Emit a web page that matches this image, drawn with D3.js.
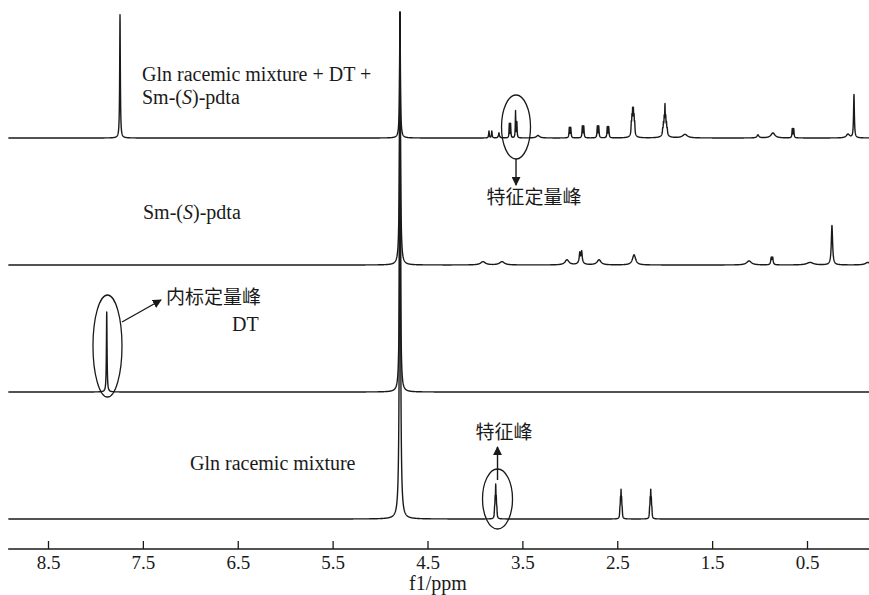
<!DOCTYPE html>
<html>
<head>
<meta charset="utf-8">
<script src="https://cdn.jsdelivr.net/npm/d3@7"></script>
<style>
  body { margin: 0; background: #fff; }
  svg { display: block; }
  .lbl { font-family: "Liberation Serif", "Times New Roman", serif; font-size: 20px; fill: #1a1a1a; }
  .cjk { font-family: "Noto Sans CJK SC", sans-serif; font-size: 19px; fill: #1a1a1a; }
  .axis text { font-family: "Liberation Serif", "Times New Roman", serif; font-size: 19px; fill: #1a1a1a; }
</style>
</head>
<body>
<div id="chart"></div>
<script>
// spectra, top to bottom
var spectra = ["mix", "sm", "dt", "gln"];
var tickValues = [8.5, 7.5, 6.5, 5.5, 4.5, 3.5, 2.5, 1.5, 0.5];
var ppmRange = [8.92, -0.16];

// peaks: [ppm, height (fraction of panel spacing), half width (ppm)]
var mixPeaks = [
  [7.741, 0.97, 0.004],
  [4.79, 0.99, 0.005],
  [3.852, 0.055, 0.004], [3.822, 0.055, 0.004],
  [3.747, 0.04, 0.006],
  [3.638, 0.11, 0.003], [3.624, 0.11, 0.003],
  [3.572, 0.21, 0.003], [3.558, 0.12, 0.003],
  [3.335, 0.02, 0.02],
  [3.005, 0.08, 0.004], [2.99, 0.08, 0.004],
  [2.868, 0.09, 0.004], [2.853, 0.09, 0.004],
  [2.71, 0.09, 0.004], [2.695, 0.09, 0.004],
  [2.605, 0.085, 0.004], [2.59, 0.085, 0.004],
  [2.352, 0.08, 0.003], [2.345, 0.11, 0.003], [2.338, 0.15, 0.003], [2.33, 0.15, 0.003],
  [2.323, 0.11, 0.003], [2.316, 0.08, 0.003], [2.334, 0.05, 0.02],
  [1.997, 0.19, 0.003], [2.005, 0.1, 0.003], [1.989, 0.1, 0.003], [2.013, 0.07, 0.003],
  [1.981, 0.07, 0.003], [2.021, 0.04, 0.003], [1.973, 0.04, 0.003], [1.997, 0.05, 0.025],
  [1.786, 0.028, 0.03],
  [1.017, 0.024, 0.012],
  [0.859, 0.04, 0.025],
  [0.655, 0.07, 0.004], [0.64, 0.07, 0.004],
  [0.068, 0.03, 0.02],
  [0.005, 0.34, 0.005]
];
var smPeaks = [
  [4.79, 1.99, 0.006],
  [3.915, 0.026, 0.03],
  [3.715, 0.026, 0.03],
  [3.03, 0.04, 0.025],
  [2.895, 0.07, 0.006], [2.875, 0.08, 0.006], [2.885, 0.03, 0.025],
  [2.692, 0.04, 0.025],
  [2.323, 0.08, 0.02],
  [1.111, 0.032, 0.03],
  [0.877, 0.055, 0.006], [0.862, 0.055, 0.006],
  [0.468, 0.02, 0.04],
  [0.237, 0.31, 0.008],
  [-0.14, 0.02, 0.03]
];
var dtPeaks = [
  [7.881, 0.63, 0.004],
  [4.79, 2.99, 0.005]
];
var glnPeaks = [
  [4.79, 3.99, 0.006],
  [3.781, 0.22, 0.003], [3.787, 0.12, 0.003], [3.775, 0.12, 0.003], [3.793, 0.06, 0.003], [3.769, 0.06, 0.003],
  [2.46, 0.18, 0.003], [2.466, 0.12, 0.003], [2.454, 0.12, 0.003], [2.472, 0.06, 0.003], [2.448, 0.06, 0.003],
  [2.147, 0.18, 0.003], [2.153, 0.12, 0.003], [2.141, 0.12, 0.003], [2.159, 0.06, 0.003], [2.135, 0.06, 0.003]
];
var peakSets = { mix: mixPeaks, sm: smPeaks, dt: dtPeaks, gln: glnPeaks };

var width = 869, height = 595;
var svg = d3.select("#chart").append("svg")
  .attr("width", width).attr("height", height);

var x = d3.scaleLinear().domain([8.5, 0.5]).range([48, 807]);
var base = d3.scalePoint().domain(spectra).range([138, 519]);
var panel = 127;

svg.append("defs").append("marker")
  .attr("id", "arrow")
  .attr("viewBox", "0 0 10 10")
  .attr("refX", 9).attr("refY", 5)
  .attr("markerWidth", 9).attr("markerHeight", 9)
  .attr("markerUnits", "userSpaceOnUse")
  .attr("orient", "auto")
  .append("path")
  .attr("d", "M0,0L10,5L0,10Z")
  .attr("fill", "#1a1a1a");

// sampling grid in ppm, with the peak centres added
function buildSpectrum(peaks) {
  var grid = d3.range(ppmRange[1], ppmRange[0], 0.002);
  peaks.forEach(function(p) { grid.push(p[0]); });
  grid.sort(d3.descending);
  return grid.map(function(v) {
    var s = 0;
    peaks.forEach(function(p) {
      var d = v - p[0];
      s += p[1] * p[2] * p[2] / (d * d + p[2] * p[2]);
    });
    return [v, s];
  });
}

spectra.forEach(function(name) {
  var y = d3.scaleLinear().domain([0, 1]).range([base(name), base(name) - panel]);
  var line = d3.line()
    .x(function(d) { return x(d[0]); })
    .y(function(d) { return Math.max(12, y(d[1])); });
  svg.append("path")
    .datum(buildSpectrum(peakSets[name]))
    .attr("d", line)
    .attr("fill", "none")
    .attr("stroke", "#1a1a1a")
    .attr("stroke-width", 1.4)
    .attr("stroke-linejoin", "round");
});

// axis
var axisY = 549;
svg.append("line")
  .attr("x1", x(ppmRange[0])).attr("x2", x(ppmRange[1]))
  .attr("y1", axisY).attr("y2", axisY)
  .attr("stroke", "#1a1a1a").attr("stroke-width", 1.3);
var axis = svg.append("g")
  .attr("class", "axis")
  .attr("transform", "translate(0," + axisY + ")")
  .call(d3.axisBottom(x).tickValues(tickValues).tickFormat(d3.format(".1f"))
    .tickSizeInner(-8).tickSizeOuter(0).tickPadding(7));
axis.select(".domain").remove();
axis.selectAll(".tick line").attr("stroke", "#1a1a1a").attr("stroke-width", 1.3);
axis.selectAll(".tick text").attr("y", 20).attr("dy", 0);

svg.append("text").attr("class", "lbl")
  .attr("x", 438).attr("y", 590).attr("text-anchor", "middle")
  .text("f1/ppm");

// spectrum labels
var t1 = svg.append("text").attr("class", "lbl").attr("x", 142).attr("y", 81);
t1.text("Gln racemic mixture + DT +");
var t2 = svg.append("text").attr("class", "lbl").attr("x", 142).attr("y", 104);
t2.append("tspan").text("Sm-(");
t2.append("tspan").attr("font-style", "italic").text("S");
t2.append("tspan").text(")-pdta");

var t3 = svg.append("text").attr("class", "lbl").attr("x", 143).attr("y", 219);
t3.append("tspan").text("Sm-(");
t3.append("tspan").attr("font-style", "italic").text("S");
t3.append("tspan").text(")-pdta");

svg.append("text").attr("class", "lbl").attr("x", 232).attr("y", 331).text("DT");
svg.append("text").attr("class", "lbl").attr("x", 190).attr("y", 470).text("Gln racemic mixture");

// annotations
function ellipse(ppm, cy, rx, ry) {
  svg.append("ellipse")
    .attr("cx", x(ppm)).attr("cy", cy).attr("rx", rx).attr("ry", ry)
    .attr("fill", "none").attr("stroke", "#1a1a1a").attr("stroke-width", 1.3);
}
function arrow(x1, y1, x2, y2) {
  svg.append("line")
    .attr("x1", x1).attr("y1", y1).attr("x2", x2).attr("y2", y2)
    .attr("stroke", "#1a1a1a").attr("stroke-width", 1.4)
    .attr("marker-end", "url(#arrow)");
}

ellipse(3.567, 127, 14.5, 32);
arrow(x(3.567), 159, x(3.567), 185);
svg.append("text").attr("class", "cjk").attr("x", 534).attr("y", 204)
  .attr("text-anchor", "middle").text("特征定量峰");

ellipse(7.873, 346, 14.5, 51);
arrow(122, 322, 161, 300);
svg.append("text").attr("class", "cjk").attr("x", 166).attr("y", 304).text("内标定量峰");

ellipse(3.762, 499, 15, 30);
arrow(x(3.762), 480, x(3.762), 447);
svg.append("text").attr("class", "cjk").attr("x", 504).attr("y", 439)
  .attr("text-anchor", "middle").text("特征峰");
</script>
</body>
</html>
